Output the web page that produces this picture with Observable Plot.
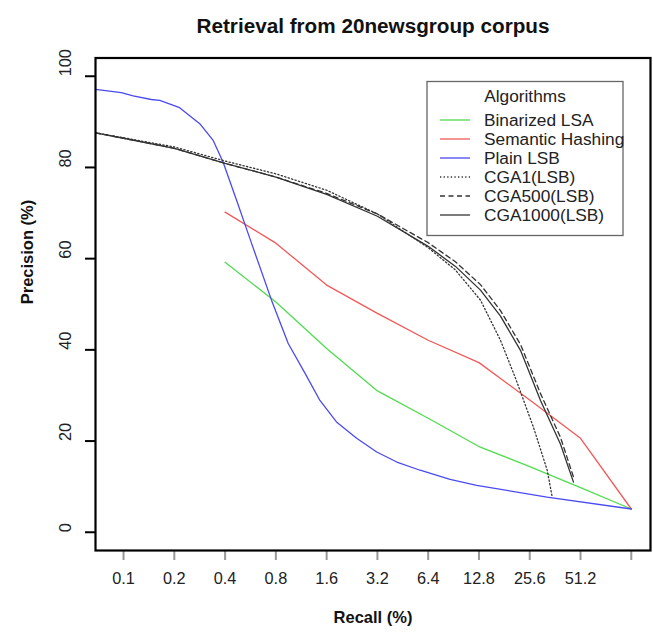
<!DOCTYPE html>
<html><head><meta charset="utf-8">
<script src="https://cdn.jsdelivr.net/npm/d3@7"></script>
<script src="https://cdn.jsdelivr.net/npm/@observablehq/plot@0.6"></script>
<style>body{margin:0;background:#fff;}</style>
</head><body><div id="chart"></div>
<script>
// ---- data ----
const algorithms = ["Binarized LSA", "Semantic Hashing", "Plain LSB", "CGA1(LSB)", "CGA500(LSB)", "CGA1000(LSB)"];

const recallLSA = [0.4, 0.8, 1.6, 3.2, 6.4, 12.8, 25.6, 51.2, 102.4];
const precisionLSA = [59.2, 50.5, 40.3, 31.0, 25.0, 18.8, 14.4, 9.8, 5.1];

const recallSH = [0.4, 0.8, 1.6, 3.2, 6.4, 12.8, 25.6, 51.2, 102.4];
const precisionSH = [70.2, 63.4, 54.2, 48.0, 42.1, 37.2, 29.0, 20.6, 5.1];

const recallLSB = [0.0682, 0.097, 0.114, 0.146, 0.164, 0.215, 0.283, 0.339, 0.389, 0.468, 0.566, 0.754, 0.947, 1.19, 1.46, 1.83, 2.41, 3.17, 4.17, 5.73, 8.63, 12.4, 32.4, 102.4];
const precisionLSB = [97.1, 96.4, 95.7, 94.9, 94.7, 93.1, 89.6, 86.0, 81.2, 72.8, 64.0, 50.9, 41.4, 34.9, 28.9, 24.2, 20.6, 17.6, 15.4, 13.6, 11.6, 10.3, 7.7, 5.1];

const recallCGA1 = [0.0682, 0.1, 0.2, 0.4, 0.8, 1.6, 3.2, 6.4, 9.29, 13.07, 17.17, 21.07, 26.95, 32.5, 34.8];
const precisionCGA1 = [87.6, 86.5, 84.5, 81.4, 78.6, 75.0, 69.8, 62.4, 57.5, 50.9, 42.1, 33.8, 23.0, 13.6, 7.7];

const recallCGA500 = [0.0682, 0.1, 0.2, 0.4, 0.8, 1.6, 3.2, 6.4, 9.29, 13.07, 17.17, 22.56, 29.66, 38.97, 47.0];
const precisionCGA500 = [87.6, 86.4, 84.2, 80.9, 77.9, 74.3, 69.8, 63.5, 59.3, 54.3, 48.6, 41.2, 30.4, 20.8, 11.6];

const recallCGA1000 = [0.0682, 0.1, 0.2, 0.4, 0.8, 1.6, 3.2, 6.4, 9.29, 13.07, 17.17, 22.56, 29.66, 38.97, 46.5];
const precisionCGA1000 = [87.6, 86.4, 84.2, 80.9, 77.9, 74.1, 69.3, 62.7, 58.3, 53.1, 47.4, 39.9, 28.9, 19.3, 11.0];

const xTicks = [0.1, 0.2, 0.4, 0.8, 1.6, 3.2, 6.4, 12.8, 25.6, 51.2, 102.4];
const xTickLabels = ["0.1", "0.2", "0.4", "0.8", "1.6", "3.2", "6.4", "12.8", "25.6", "51.2", ""];
const yTicks = [0, 20, 40, 60, 80, 100];

// ---- styles ----
const colors = ["#50dc50", "#f25858", "#4a4af2", "#333333", "#333333", "#333333"];
const dashes = [null, null, null, "1.3,2.3", "5,3.5", null];

const recalls = [recallLSA, recallSH, recallLSB, recallCGA1, recallCGA500, recallCGA1000];
const precisions = [precisionLSA, precisionSH, precisionLSB, precisionCGA1, precisionCGA500, precisionCGA1000];
const rows = algorithms.map((a, i) => recalls[i].map((r, j) => ({algo: a, recall: r, precision: precisions[i][j]})));

const FONT = "'Liberation Sans', Arial, Helvetica, sans-serif";

const chart = Plot.plot({
  width: 653,
  height: 634,
  marginLeft: 95,
  marginRight: 3,
  marginTop: 57.5,
  marginBottom: 84,
  style: {fontFamily: FONT, fontSize: "16px", color: "#222", background: "#fff", overflow: "visible"},
  x: {type: "log", domain: [0.0682, 133.1], label: null},
  y: {domain: [-4, 104], label: null},
  marks: [
    ...algorithms.map((a, i) => Plot.line(rows[i], {
      x: "recall", y: "precision", stroke: colors[i], strokeWidth: 1.3,
      strokeDasharray: dashes[i], clip: true
    })),
    Plot.axisX({ticks: xTicks, tickSize: 10, stroke: "#999", strokeWidth: 2, tickFormat: () => "", label: null}),
    Plot.text(xTicks, {x: d => d, text: (d, i) => xTickLabels[i], frameAnchor: "bottom", dy: 33.5, fontSize: 16.3, fill: "#222"}),
    Plot.axisY({ticks: yTicks, tickSize: 10, stroke: "#000", strokeWidth: 2, tickFormat: () => "", label: null}),
    Plot.text(yTicks, {y: d => d, text: d => String(d), frameAnchor: "left", dx: -30, rotate: -90, fontSize: 16.3, fill: "#222"}),
    Plot.frame({stroke: "#000", strokeWidth: 2.2}),
    Plot.text(["Recall (%)"], {text: d => d, frameAnchor: "bottom", dy: 72, fontWeight: "bold", fontSize: 16.5, fill: "#111"}),
    Plot.text(["Precision (%)"], {text: d => d, frameAnchor: "left", dx: -68, rotate: -90, fontWeight: "bold", fontSize: 16.5, fill: "#111"}),
    Plot.text(["Retrieval from 20newsgroup corpus"], {text: d => d, frameAnchor: "top", dy: -40, fontWeight: "bold", fontSize: 20.7, fill: "#111"})
  ]
});

// ---- legend ----
const svg = d3.select(chart);
const lg = svg.append("g").attr("font-family", FONT).attr("font-size", 17.3).attr("fill", "#222");
lg.append("rect").attr("x", 427).attr("y", 81.5).attr("width", 196).attr("height", 154)
  .attr("fill", "#fff").attr("stroke", "#666").attr("stroke-width", 1.3);
lg.append("text").attr("x", 525).attr("y", 96).attr("text-anchor", "middle").attr("dominant-baseline", "central").text("Algorithms");
algorithms.forEach((a, i) => {
  const y = 120 + i * 19;
  lg.append("line").attr("x1", 440).attr("x2", 470).attr("y1", y).attr("y2", y)
    .attr("stroke", colors[i]).attr("stroke-width", 1.3).attr("stroke-dasharray", dashes[i]);
  lg.append("text").attr("x", 484).attr("y", y).attr("text-anchor", "start").attr("dominant-baseline", "central").text(a);
});

document.getElementById("chart").appendChild(chart);
</script>
</body></html>
